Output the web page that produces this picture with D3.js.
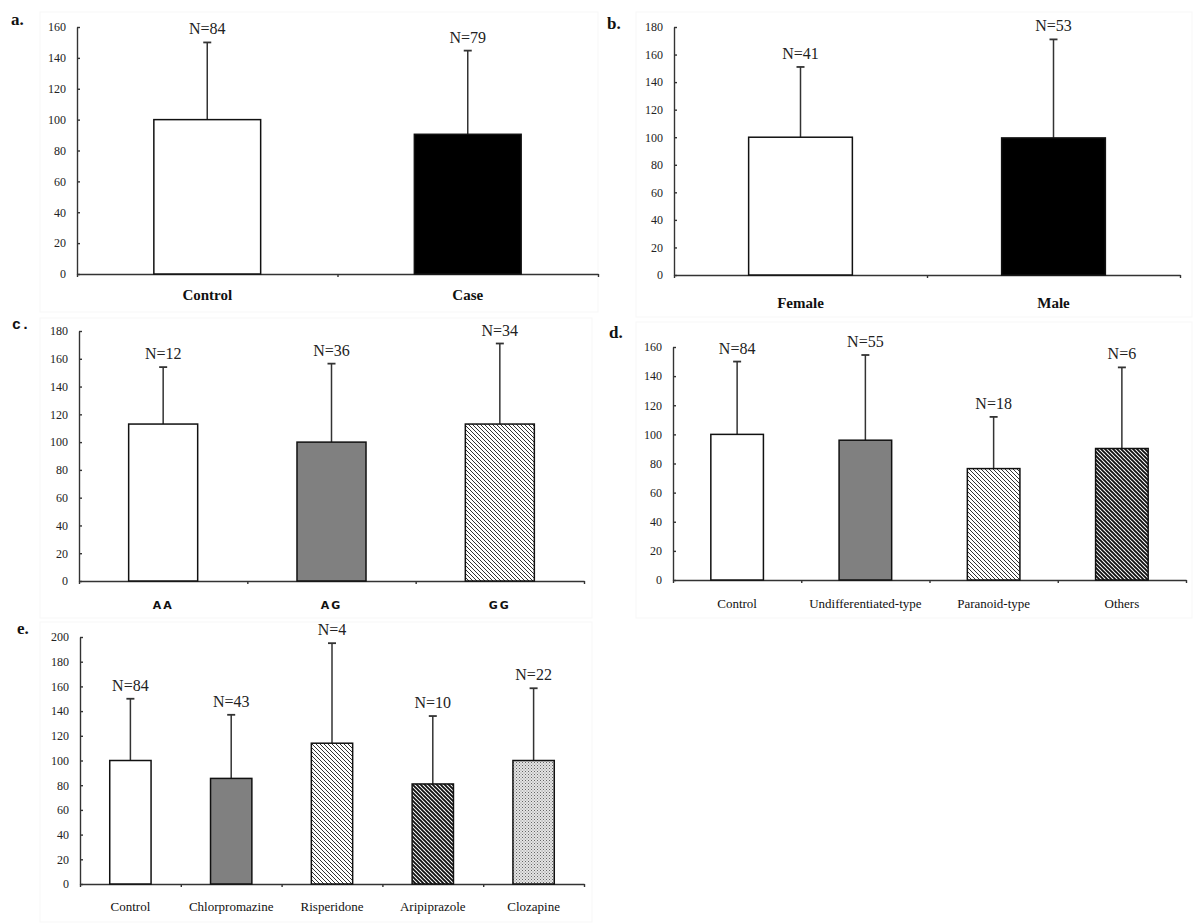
<!DOCTYPE html>
<html><head><meta charset="utf-8">
<script src="https://cdn.jsdelivr.net/npm/d3@7"></script>
<style>body{margin:0;background:#fff}svg{display:block}</style>
</head><body><svg id="chart" width="1200" height="924"></svg>
<script>
// ---------- data ----------
const catsA = ["Control", "Case"];
const meanA = [100, 90.5];
const sdA   = [50, 54.2];
const nA    = [84, 79];
const ticksA = [0, 20, 40, 60, 80, 100, 120, 140, 160];

const catsB = ["Female", "Male"];
const meanB = [100, 99.5];
const sdB   = [51, 71.5];
const nB    = [41, 53];
const ticksB = [0, 20, 40, 60, 80, 100, 120, 140, 160, 180];

const catsC = ["AA", "AG", "GG"];
const meanC = [113, 100, 113];
const sdC   = [41, 56.5, 58];
const nC    = [12, 36, 34];
const ticksC = [0, 20, 40, 60, 80, 100, 120, 140, 160, 180];

const catsD = ["Control", "Undifferentiated-type", "Paranoid-type", "Others"];
const meanD = [100, 96, 76.5, 90.3];
const sdD   = [50, 58.5, 35.5, 55.7];
const nD    = [84, 55, 18, 6];
const ticksD = [0, 20, 40, 60, 80, 100, 120, 140, 160];

const catsE = ["Control", "Chlorpromazine", "Risperidone", "Aripiprazole", "Clozapine"];
const meanE = [100, 85.5, 114, 81, 100];
const sdE   = [50, 51.5, 81, 55, 58.5];
const nE    = [84, 43, 4, 10, 22];
const ticksE = [0, 20, 40, 60, 80, 100, 120, 140, 160, 180, 200];

// ---------- drawing ----------
const svg = d3.select("#chart");
const defs = svg.append("defs");

function hatch(id, w, color) {
  const p = defs.append("pattern").attr("id", id).attr("patternUnits", "userSpaceOnUse")
    .attr("width", 4).attr("height", 4);
  p.append("rect").attr("width", 4).attr("height", 4).attr("fill", "#fff");
  p.append("path").attr("d", "M-1,-1 L5,5 M3,-1 L5,1 M-1,3 L1,5")
    .attr("stroke", color).attr("stroke-width", w).attr("fill", "none");
}
hatch("hLight", 1, "#333");
hatch("hDark", 1.9, "#111");
(function () {
  const p = defs.append("pattern").attr("id", "dots").attr("patternUnits", "userSpaceOnUse")
    .attr("width", 3).attr("height", 3);
  p.append("rect").attr("width", 3).attr("height", 3).attr("fill", "#e4e4e4");
  p.append("rect").attr("x", 0).attr("y", 0).attr("width", 1).attr("height", 1).attr("fill", "#666");
  p.append("rect").attr("x", 1.5).attr("y", 1.5).attr("width", 1).attr("height", 1).attr("fill", "#888");
})();

const SERIF = "'Liberation Serif', 'Times New Roman', serif";

function drawPanel(cfg) {
  const g = svg.append("g");
  const n = cfg.cats.length;
  // faint chart-area frame
  g.append("rect").attr("x", cfg.fx).attr("y", cfg.fy).attr("width", cfg.fw).attr("height", cfg.fh)
    .attr("fill", "none").attr("stroke", "#f7f7f7").attr("stroke-width", 1);

  const x = d3.scaleBand().domain(cfg.cats).range([cfg.x0, cfg.x1]).padding(0);
  const y = d3.scaleLinear().domain([0, d3.max(cfg.ticks)]).range([cfg.yb, cfg.yt]);
  const xb = d3.scaleLinear().domain([0, n]).range([cfg.x0, cfg.x1]);

  // panel letter
  g.append("text").attr("x", cfg.lx).attr("y", cfg.ly).text(cfg.letter)
    .attr("font-family", cfg.letterFont || SERIF).attr("font-weight", "bold")
    .attr("font-size", cfg.letterSize || 17).attr("fill", "#111");

  // y axis
  const ya = g.append("g").attr("transform", `translate(${cfg.x0},0)`)
    .call(d3.axisLeft(y).tickValues(cfg.ticks).tickSize(-3).tickSizeOuter(0).tickPadding(11).tickFormat(d3.format("d")));
  ya.selectAll("path,line").attr("stroke", "#333").attr("stroke-width", 1.4);
  ya.selectAll("text").attr("font-family", SERIF).attr("font-size", 12).attr("fill", "#222");

  // x axis (boundary ticks)
  const xa = g.append("g").attr("transform", `translate(0,${cfg.yb})`)
    .call(d3.axisBottom(xb).tickValues(d3.range(n + 1)).tickSize(3).tickSizeOuter(0).tickFormat(""));
  xa.selectAll("path,line").attr("stroke", "#333").attr("stroke-width", 1.4);

  const bw = x.bandwidth() * 0.41;
  const cx = c => x(c) + x.bandwidth() / 2;

  // error bars (drawn first so bar outline sits on top)
  cfg.cats.forEach((c, i) => {
    const top = y(cfg.mean[i] + cfg.sd[i]);
    g.append("line").attr("x1", cx(c)).attr("x2", cx(c)).attr("y1", y(cfg.mean[i])).attr("y2", top)
      .attr("stroke", "#333").attr("stroke-width", 1.5);
    g.append("line").attr("x1", cx(c) - 4).attr("x2", cx(c) + 4).attr("y1", top).attr("y2", top)
      .attr("stroke", "#333").attr("stroke-width", 1.8);
    g.append("text").attr("x", cx(c)).attr("y", top - 8).attr("text-anchor", "middle")
      .attr("font-family", SERIF).attr("font-size", 16).attr("fill", "#222")
      .text("N=" + cfg.nn[i]);
  });

  // bars
  g.selectAll("rect.bar").data(cfg.cats).enter().append("rect").attr("class", "bar")
    .attr("x", c => cx(c) - bw / 2).attr("width", bw)
    .attr("y", (c, i) => y(cfg.mean[i])).attr("height", (c, i) => y(0) - y(cfg.mean[i]))
    .attr("fill", (c, i) => cfg.fills[i]).attr("stroke", "#111").attr("stroke-width", 1.5);

  // category labels
  cfg.cats.forEach(c => {
    g.append("text").attr("x", cx(c)).attr("y", cfg.cy).attr("text-anchor", "middle")
      .attr("font-family", cfg.catFont || SERIF).attr("font-weight", cfg.catWeight || "normal")
      .attr("font-size", cfg.catSize || 13).attr("letter-spacing", cfg.catSpacing || 0)
      .attr("fill", "#111").text(c);
  });
}

drawPanel({ cats: catsA, mean: meanA, sd: sdA, nn: nA, ticks: ticksA,
  x0: 77, x1: 598, yb: 274, yt: 27, fx: 40, fy: 12, fw: 558, fh: 300,
  letter: "a.", lx: 11, ly: 25, cy: 300, catWeight: "bold", catSize: 15,
  fills: ["#fff", "#000"] });

drawPanel({ cats: catsB, mean: meanB, sd: sdB, nn: nB, ticks: ticksB,
  x0: 674, x1: 1180, yb: 275, yt: 27, fx: 636, fy: 12, fw: 556, fh: 305,
  letter: "b.", lx: 607, ly: 29, cy: 308, catWeight: "bold", catSize: 15,
  fills: ["#fff", "#000"] });

drawPanel({ cats: catsC, mean: meanC, sd: sdC, nn: nC, ticks: ticksC,
  x0: 79, x1: 584, yb: 581, yt: 331, fx: 40, fy: 318, fw: 552, fh: 300,
  letter: "c.", lx: 12, ly: 329, letterFont: "'Liberation Mono', monospace", letterSize: 15,
  cy: 609, catFont: "'DejaVu Sans', sans-serif", catWeight: "bold", catSize: 11, catSpacing: 2,
  fills: ["#fff", "#808080", "url(#hLight)"] });

drawPanel({ cats: catsD, mean: meanD, sd: sdD, nn: nD, ticks: ticksD,
  x0: 673, x1: 1186, yb: 580, yt: 347, fx: 636, fy: 322, fw: 556, fh: 296,
  letter: "d.", lx: 609, ly: 338, cy: 608, catSize: 13,
  fills: ["#fff", "#808080", "url(#hLight)", "url(#hDark)"] });

drawPanel({ cats: catsE, mean: meanE, sd: sdE, nn: nE, ticks: ticksE,
  x0: 80, x1: 584, yb: 884, yt: 637, fx: 40, fy: 622, fw: 552, fh: 300,
  letter: "e.", lx: 17, ly: 634, cy: 911, catSize: 13,
  fills: ["#fff", "#808080", "url(#hLight)", "url(#hDark)", "url(#dots)"] });
</script>
</body></html>
